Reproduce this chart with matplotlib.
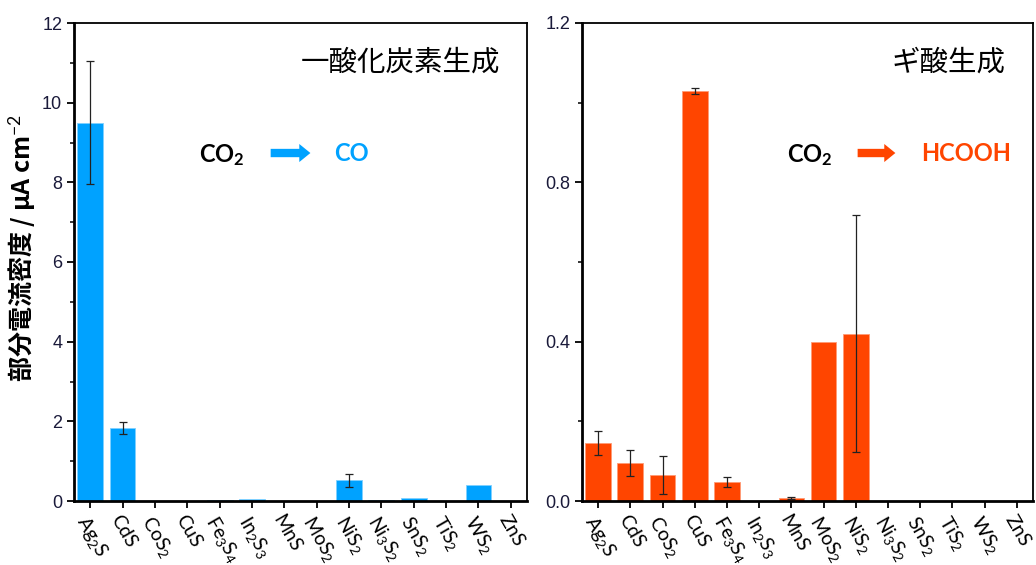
import matplotlib.pyplot as plt
from matplotlib.ticker import MultipleLocator

plt.rcParams['font.family'] = ['Liberation Sans', 'Noto Sans CJK JP', 'DejaVu Sans']
plt.rcParams['mathtext.fontset'] = 'custom'
plt.rcParams['mathtext.rm'] = 'Lato'
plt.rcParams['mathtext.it'] = 'Lato:italic'
plt.rcParams['mathtext.bf'] = 'Lato:bold'

# catalysts (x-axis labels)
labels = [r'Ag$_\mathrm{2}$S', 'CdS', r'CoS$_\mathrm{2}$', 'CuS', r'Fe$_\mathrm{3}$S$_\mathrm{4}$',
          r'In$_\mathrm{2}$S$_\mathrm{3}$', 'MnS', r'MoS$_\mathrm{2}$', r'NiS$_\mathrm{2}$',
          r'Ni$_\mathrm{3}$S$_\mathrm{2}$', r'SnS$_\mathrm{2}$', r'TiS$_\mathrm{2}$',
          r'WS$_\mathrm{2}$', 'ZnS']

# CO partial current density (uA cm^-2)
co_vals = [9.5, 1.83, 0.0, 0.0, 0.02, 0.05, 0.0, 0.0, 0.52, 0.03, 0.08, 0.0, 0.40, 0.01]
co_err = [1.55, 0.15, 0, 0, 0, 0, 0, 0, 0.17, 0, 0, 0, 0, 0]

# HCOOH partial current density (uA cm^-2)
fa_vals = [0.145, 0.095, 0.065, 1.03, 0.047, 0.0, 0.008, 0.40, 0.42, 0.0, 0.0, 0.0, 0.0, 0.0]
fa_err = [0.03, 0.033, 0.047, 0.008, 0.013, 0, 0.002, 0, 0.297, 0, 0, 0, 0, 0]

blue = '#00A2FF'
orange = '#FF4500'
tick_col = '#1a1a3a'

fig = plt.figure(figsize=(10.36, 5.65), dpi=100)
ax1 = fig.add_axes([74 / 1036, 64 / 565, 453 / 1036, 478 / 565])
ax2 = fig.add_axes([582 / 1036, 64 / 565, 451 / 1036, 478 / 565])

x = list(range(len(labels)))


def draw(ax, vals, errs, color, edge):
    ax.bar(x, vals, width=0.8, color=color, edgecolor=edge, linewidth=0.6)
    ex = [i for i in x if errs[i] > 0]
    ax.errorbar(ex, [vals[i] for i in ex], yerr=[errs[i] for i in ex], fmt='none',
                ecolor='#222222', elinewidth=0.9, capsize=3, capthick=0.9)


def style(ax, ymax, major, minor, fmt):
    ax.set_xlim(-0.5, len(labels) - 0.5)
    ax.set_ylim(0, ymax)
    ax.yaxis.set_major_locator(MultipleLocator(major))
    ax.yaxis.set_minor_locator(MultipleLocator(minor))
    ax.yaxis.set_major_formatter(fmt)
    ax.tick_params(axis='y', which='major', direction='out', length=5, width=1.3,
                   labelsize=13, labelcolor=tick_col)
    ax.tick_params(axis='y', which='minor', direction='out', length=3, width=1.1)
    ax.tick_params(axis='x', direction='out', length=5, width=1.3, pad=3)
    ax.set_xticks(x)
    ax.set_xticklabels(labels, rotation=-60, ha='left', va='top',
                       rotation_mode='anchor', fontsize=14, family=['Lato'])
    for sp in ax.spines.values():
        sp.set_linewidth(1.3)
    ax.spines['bottom'].set_linewidth(2)
    ax.spines['left'].set_linewidth(2)


def reaction(ax, xc, xa0, xa1, xp, product, color):
    y = 0.724
    ax.text(xc, y, r'CO$_\mathbf{2}$', transform=ax.transAxes, ha='center', va='center',
            fontsize=17, fontweight='bold', family=['Lato'])
    ax.annotate('', xy=(xa1, y + 0.004), xytext=(xa0, y + 0.004), xycoords='axes fraction',
                arrowprops=dict(arrowstyle='simple,head_width=1.3,head_length=0.8,tail_width=0.6',
                                color=color, lw=0))
    ax.text(xp, y + 0.004, product, transform=ax.transAxes, ha='center', va='center',
            fontsize=17, fontweight='bold', color=color, family=['Lato'])


draw(ax1, co_vals, co_err, blue, '#7fd0ff')
style(ax1, 12, 2, 1, lambda v, p: f'{v:.0f}')
ax1.set_ylabel('部分電流密度 / μA cm$^{-2}$', fontsize=18, fontweight='bold',
               family=['Noto Sans CJK JP', 'DejaVu Sans'])
ax1.yaxis.set_label_coords(-0.08, 0.53)
ax1.text(0.94, 0.918, '一酸化炭素生成', transform=ax1.transAxes, ha='right', va='center',
         fontsize=20.5, family=['Noto Sans CJK JP'])
reaction(ax1, 0.327, 0.428, 0.528, 0.612, 'CO', blue)

draw(ax2, fa_vals, fa_err, orange, '#ff9a75')
style(ax2, 1.2, 0.4, 0.2, lambda v, p: f'{v:.1f}')
ax2.text(0.938, 0.918, 'ギ酸生成', transform=ax2.transAxes, ha='right', va='center',
         fontsize=20.5, family=['Noto Sans CJK JP'])
reaction(ax2, 0.505, 0.605, 0.701, 0.851, 'HCOOH', orange)

plt.savefig('out.png', dpi=100)
plt.close()
